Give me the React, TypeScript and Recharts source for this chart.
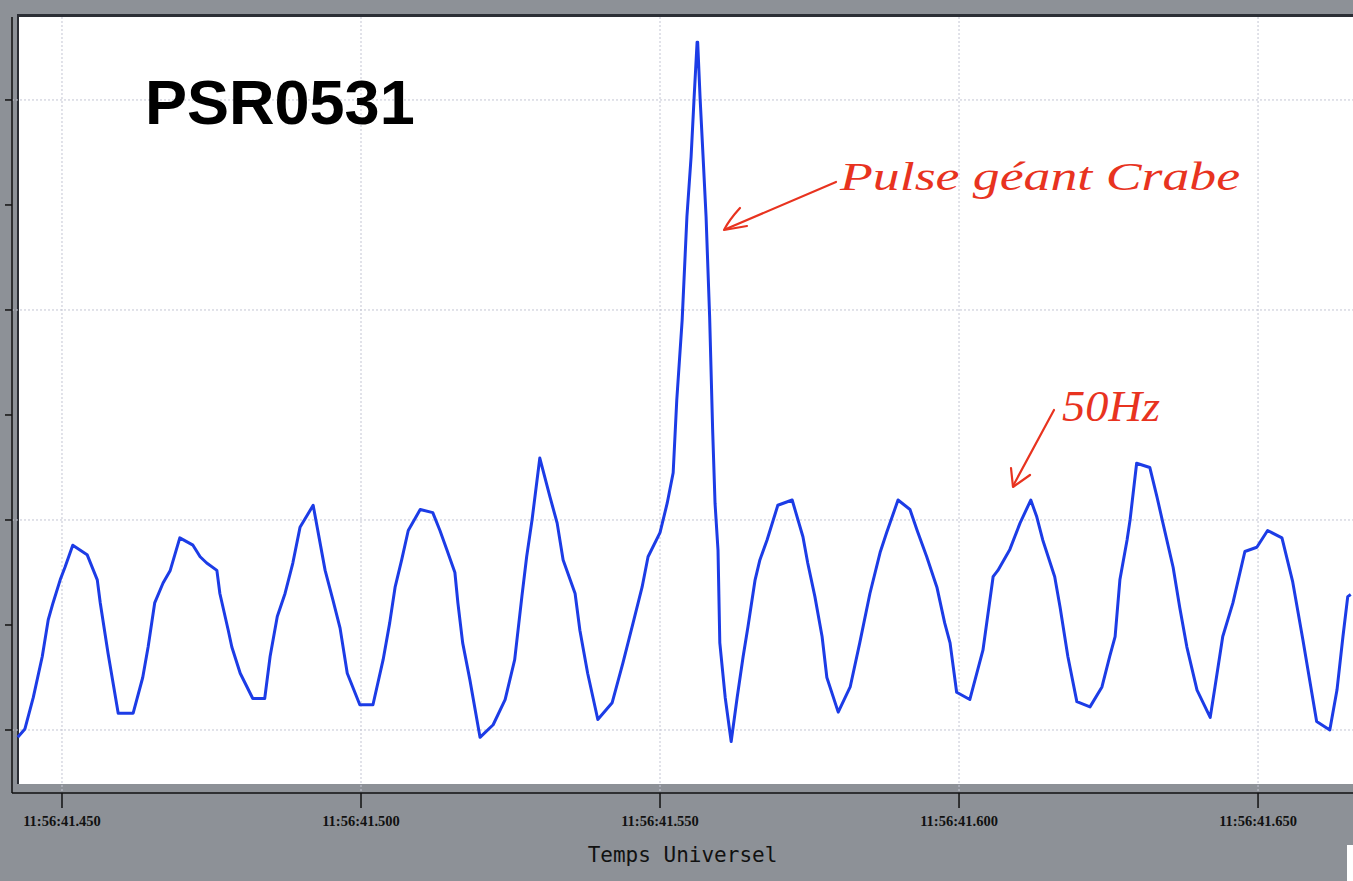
import { LineChart, Line, XAxis, YAxis, CartesianGrid } from 'recharts';

// time in ms after 11:56:41
const times = [
  442.6, 443.8, 445.2, 446.7, 447.7, 448.5, 449.7, 450.5, 451.8, 454.2,
  455.9, 456.4, 457.7, 459.4, 461.9, 463.5, 464.4, 465.5, 466.9, 468.1,
  469.7, 471.9, 473.1, 474.2, 475.9, 476.4, 477.8, 478.4, 479.8, 481.9,
  483.9, 484.8, 486.0, 487.3, 488.6, 489.8, 492.0, 494.0, 495.3, 496.5,
  497.7, 499.8, 502.0, 503.7, 504.8, 505.7, 506.8, 507.9, 509.9, 512.0,
  513.2, 514.4, 515.7, 516.2, 517.0, 518.2, 519.9, 522.1, 524.1, 525.7,
  526.9, 527.7, 528.6, 529.9, 531.6, 532.8, 533.8, 535.8, 536.6, 537.9,
  539.6, 542.0, 543.8, 545.5, 547.0, 548.0, 550.0, 551.2, 552.2, 552.8,
  553.7, 554.5, 555.2, 555.7, 556.2, 556.3, 556.7, 557.2, 557.7, 558.3,
  558.8, 559.2, 559.7, 560.0, 560.9, 561.9, 562.9, 563.9, 564.7, 565.9,
  566.7, 567.9, 569.7, 572.1, 573.9, 574.7, 575.9, 577.1, 577.9, 579.8,
  581.8, 583.4, 585.1, 586.8, 587.9, 589.8, 591.8, 593.0, 594.6, 596.3,
  597.6, 598.5, 599.6, 601.8, 604.0, 605.7, 606.5, 608.5, 610.2, 612.0,
  613.0, 614.0, 616.0, 616.9, 618.2, 619.7, 621.9, 623.9, 625.2, 626.1,
  626.9, 628.1, 628.6, 629.7, 631.9, 633.1, 634.1, 635.8, 636.9, 638.1,
  639.8, 642.0, 642.8, 644.1, 645.8, 647.8, 649.8, 651.6, 654.0, 655.8,
  657.5, 659.8, 662.0, 663.2, 664.2, 665.0, 665.5,
];

const signal = [
  -0.07, 0.01, 0.31, 0.70, 1.05, 1.21, 1.43, 1.55, 1.76, 1.67,
  1.43, 1.21, 0.73, 0.16, 0.16, 0.50, 0.79, 1.21, 1.40, 1.52,
  1.83, 1.76, 1.65, 1.59, 1.52, 1.30, 0.95, 0.79, 0.54, 0.30,
  0.30, 0.70, 1.08, 1.30, 1.59, 1.93, 2.14, 1.52, 1.24, 0.97,
  0.54, 0.24, 0.24, 0.67, 1.02, 1.36, 1.62, 1.90, 2.10, 2.07,
  1.90, 1.71, 1.50, 1.21, 0.83, 0.48, -0.07, 0.05, 0.29, 0.67,
  1.27, 1.65, 2.00, 2.59, 2.22, 1.97, 1.62, 1.30, 0.95, 0.54,
  0.10, 0.26, 0.64, 1.02, 1.36, 1.65, 1.88, 2.16, 2.45, 3.14,
  3.90, 4.89, 5.46, 6.02, 6.55, 6.55, 6.02, 5.46, 4.89, 3.93,
  2.86, 2.16, 1.71, 0.83, 0.31, -0.11, 0.31, 0.70, 0.98, 1.43,
  1.62, 1.81, 2.14, 2.19, 1.84, 1.59, 1.27, 0.89, 0.50, 0.17,
  0.41, 0.83, 1.30, 1.69, 1.88, 2.19, 2.10, 1.90, 1.65, 1.36,
  1.02, 0.83, 0.36, 0.29, 0.76, 1.46, 1.52, 1.72, 1.97, 2.19,
  2.03, 1.81, 1.46, 1.17, 0.70, 0.27, 0.22, 0.41, 0.70, 0.89,
  1.43, 1.81, 2.00, 2.54, 2.50, 2.22, 1.97, 1.55, 1.17, 0.79,
  0.38, 0.12, 0.41, 0.89, 1.21, 1.70, 1.74, 1.90, 1.83, 1.41,
  0.86, 0.08, 0.00, 0.38, 0.89, 1.27, 1.29,
];

const timeTicks = [450, 500, 550, 600, 650];
const levelTicks = [0, 1, 2, 3, 4, 5, 6];
const gridLevels = [0, 2, 4, 6];

const data = times.map((t, i) => ({ t, v: signal[i] }));

const red = '#e8331f';

export default function App() {
  return (
    <div style={{ position: 'absolute', left: 0, top: 0, width: 1353, height: 881, background: '#8d9197', overflow: 'hidden' }}>
      <div
        style={{
          position: 'absolute', left: 17, top: 14, width: 1336, height: 770,
          background: '#fff', borderTop: '3px solid #2b2e35', borderLeft: '2px solid #2b2e35', boxSizing: 'border-box',
        }}
      />
      <div style={{ position: 'absolute', left: 1347, top: 845, width: 6, height: 36, background: '#fff' }} />
      <div style={{ position: 'absolute', left: 0, top: 0 }}>
        <LineChart width={1353} height={881} data={data} margin={{ top: 17, right: 0, bottom: 0, left: 0 }}>
          <CartesianGrid
            stroke="#c3c5d3"
            strokeDasharray="2 2"
            horizontalValues={gridLevels}
            verticalValues={timeTicks}
          />
          <XAxis
            type="number"
            dataKey="t"
            domain={[441.64, 665.88]}
            ticks={timeTicks}
            allowDataOverflow
            height={88}
            tickSize={15}
            tickMargin={8}
            axisLine={{ stroke: '#111', strokeWidth: 1.5 }}
            tickLine={{ stroke: '#111', strokeWidth: 1.5 }}
            tick={{ fill: '#111', fontSize: 14.5, fontFamily: 'Liberation Serif', fontWeight: 700 }}
            tickFormatter={(t) => `11:56:41.${t}`}
            label={{ value: 'Temps Universel', position: 'insideBottom', offset: 19, fill: '#111', fontSize: 21, fontFamily: 'DejaVu Sans Mono' }}
          />
          <YAxis
            type="number"
            domain={[-0.6, 6.79]}
            ticks={levelTicks}
            allowDataOverflow
            width={12}
            tickSize={7}
            tickFormatter={() => ''}
            axisLine={{ stroke: '#111', strokeWidth: 1.5 }}
            tickLine={{ stroke: '#111', strokeWidth: 1.5 }}
          />
          <Line
            type="linear"
            dataKey="v"
            stroke="#1c3ce6"
            strokeWidth={3}
            strokeLinejoin="round"
            dot={false}
            isAnimationActive={false}
          />
        </LineChart>
      </div>
      <svg width={1353} height={881} style={{ position: 'absolute', left: 0, top: 0, pointerEvents: 'none' }}>
        <text x={145} y={124} fontSize={63} fontWeight={700} fontFamily="Liberation Sans" fill="#000">PSR0531</text>
        <g stroke={red} strokeWidth={2.2} fill="none" strokeLinecap="round" strokeLinejoin="round">
          <path d="M 836 182 L 726 229" />
          <path d="M 740 208 Q 729 220 724 230 L 747 226" />
          <path d="M 1054 410 L 1013 486" />
          <path d="M 1011 468 L 1013 487 L 1030 475" />
        </g>
        <text x={840} y={190} fontSize={40} fontStyle="italic" fontFamily="Liberation Serif" fill={red} textLength={400} lengthAdjust="spacingAndGlyphs">
          Pulse géant Crabe
        </text>
        <text x={1062} y={421} fontSize={44} fontStyle="italic" fontFamily="Liberation Serif" fill={red} textLength={98} lengthAdjust="spacingAndGlyphs">
          50Hz
        </text>
      </svg>
    </div>
  );
}
